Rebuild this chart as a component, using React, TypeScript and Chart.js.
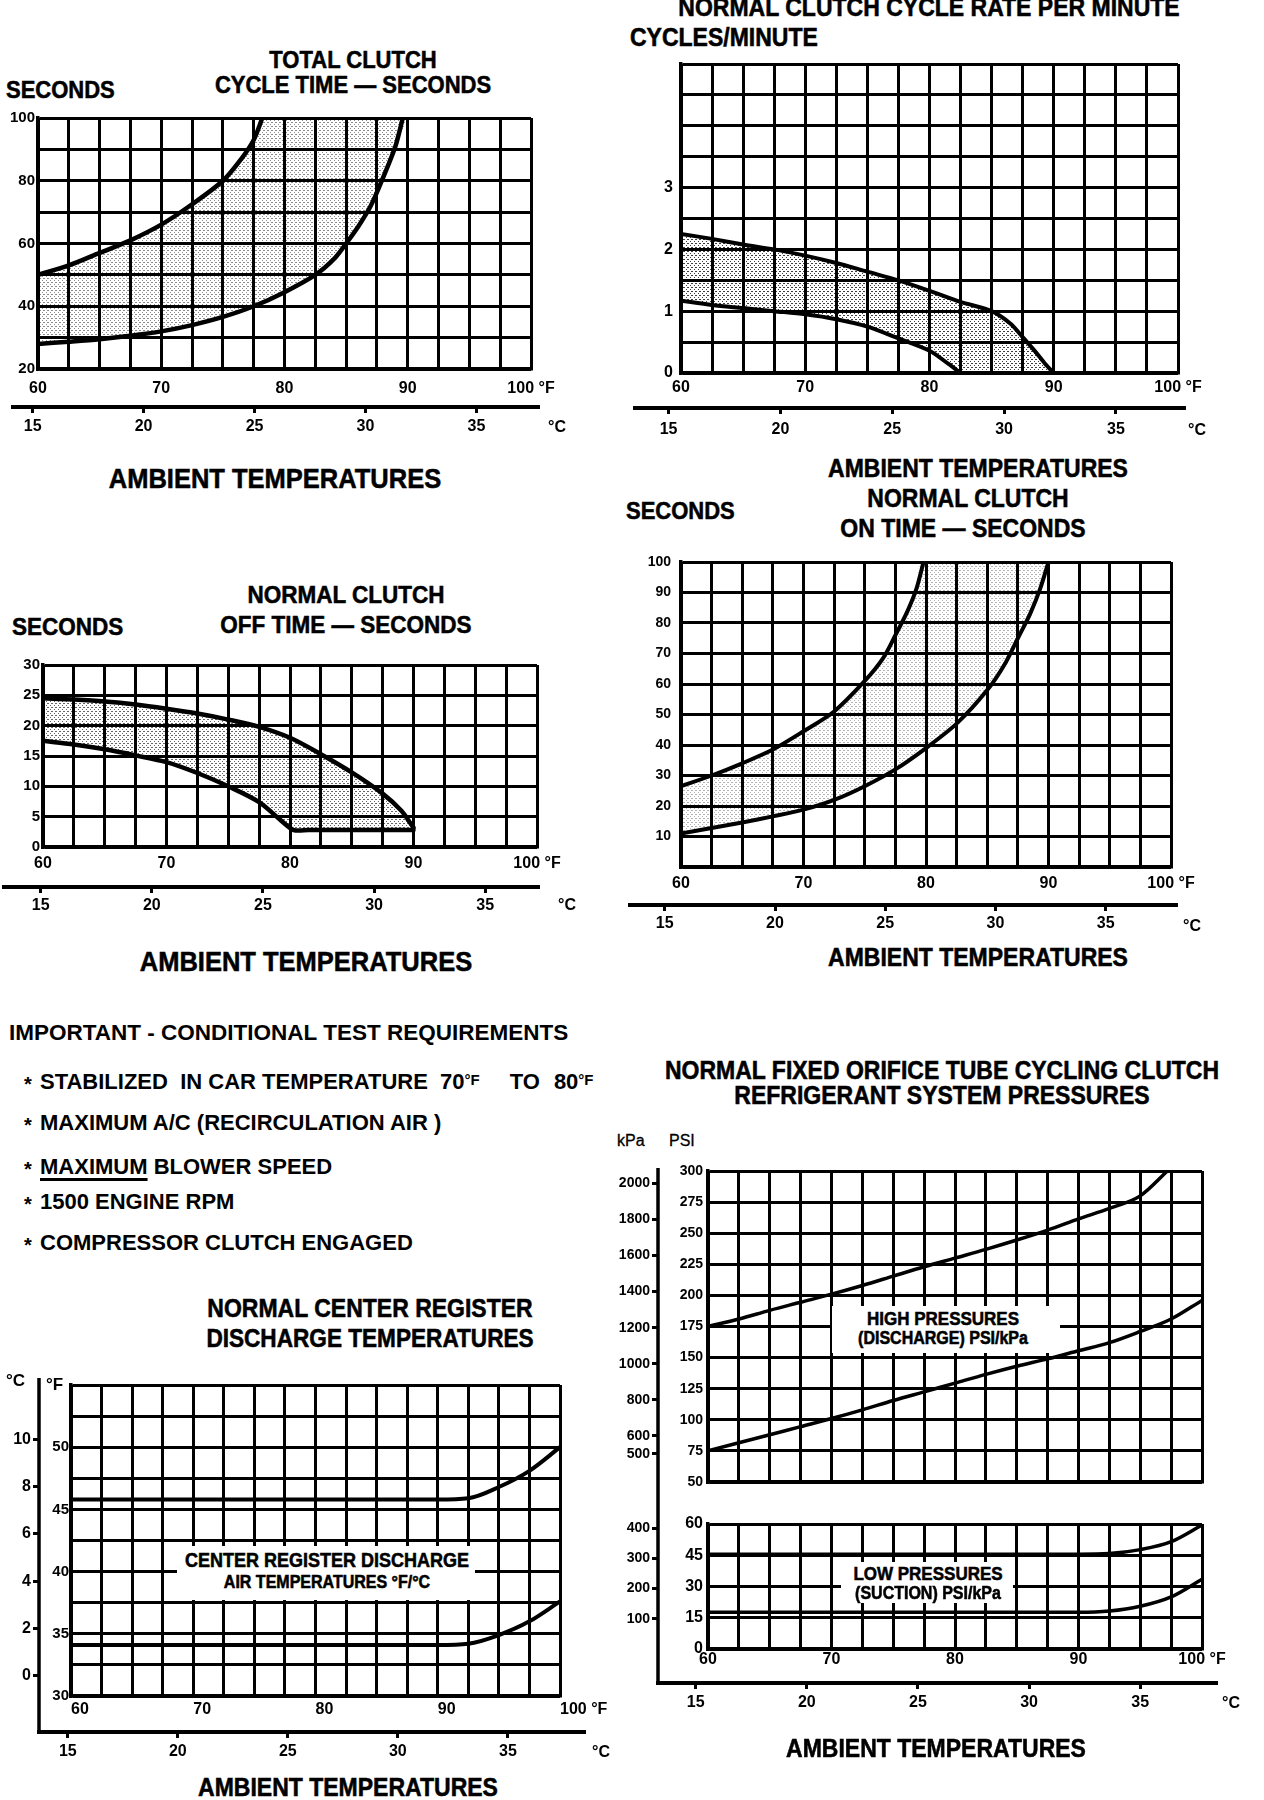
import React, { useEffect, useRef } from "react";
import { Chart, registerables } from "chart.js";

Chart.register(...registerables);

const FONT = '"Liberation Sans", Arial, Helvetica, sans-serif';
Chart.defaults.font.family = FONT;
Chart.defaults.font.weight = "bold";
Chart.defaults.color = "#000";

// ---------------- shared axis values ----------------
const F_LABELS = [60, 70, 80, 90, 100];
const C_LABELS = [15, 20, 25, 30, 35];

// ---------------- 1. total clutch cycle time (seconds) ----------------
const cycleUpperF = [60, 62.5, 65, 67.5, 70, 72.5, 75, 76.5, 77.5, 78.2];
const cycleUpperSec = [50, 53, 57, 61, 66, 72.5, 80, 87, 93, 100];
const cycleLowerF = [60, 62.5, 65, 67.5, 70, 72.5, 75, 77.5, 80, 82.5, 84, 85, 86, 87, 88, 89, 89.6];
const cycleLowerSec = [28, 28.7, 29.5, 30.6, 32, 34, 36.6, 40, 44.5, 50, 55, 60, 65.5, 72, 81, 91, 100];
const cycleSecLabels = [20, 40, 60, 80, 100];

// ---------------- 2. cycle rate per minute ----------------
const rateUpperF = [60, 62.5, 65, 67.5, 70, 72.5, 75, 77.5, 80, 82.5, 85, 86.5, 87.5, 88.5, 89.3, 90];
const rateUpperCpm = [2.25, 2.17, 2.08, 2.0, 1.9, 1.78, 1.64, 1.5, 1.33, 1.15, 1.0, 0.8, 0.58, 0.35, 0.15, 0];
const rateLowerF = [60, 62.5, 65, 67.5, 70, 72.5, 75, 77.5, 80, 81.5, 82.5];
const rateLowerCpm = [1.17, 1.1, 1.05, 1.0, 0.95, 0.87, 0.75, 0.56, 0.36, 0.15, 0];
const rateLabels = [0, 1, 2, 3];

// ---------------- 3. clutch off time ----------------
const offUpperF = [60, 62.5, 65, 67.5, 70, 72.5, 75, 77.5, 80, 82.5, 85, 87.5, 89, 90];
const offUpperSec = [24.5, 24.3, 24, 23.5, 22.8, 22, 21, 19.8, 18, 15.3, 12.3, 8.8, 6, 3.2];
const offLowerF = [60, 62.5, 65, 67.5, 70, 72.5, 75, 77.5, 79.2, 80.3, 81.5, 85, 90];
const offLowerSec = [17.5, 16.9, 16.1, 15.1, 14, 12.2, 10, 7.4, 4.5, 2.8, 2.8, 2.8, 2.8];
const offLabels = [0, 5, 10, 15, 20, 25, 30];

// ---------------- 4. clutch on time ----------------
const onLeftF = [60, 62.5, 65, 67.5, 70, 72.5, 75, 76.5, 77.5, 78.5, 79.2, 79.8];
const onLeftSec = [26.5, 30, 34, 38.5, 44.5, 51, 61, 68.5, 76, 84, 91, 100];
const onRightF = [60, 62.5, 65, 67.5, 70, 72.5, 75, 77.5, 80, 82.5, 85, 86.5, 87.5, 88.5, 89.3, 90];
const onRightSec = [11, 12.8, 14.6, 16.6, 18.8, 22, 26.5, 32, 39, 47, 58, 67, 75, 83, 91, 100];
const onLabels = [10, 20, 30, 40, 50, 60, 70, 80, 90, 100];

// ---------------- 5. center register discharge temperatures ----------------
const dischUpperF = [60, 70, 80, 90, 92.5, 95, 97.5, 100];
const dischUpperTemp = [45.8, 45.8, 45.8, 45.8, 45.9, 46.8, 48.1, 50];
const dischLowerF = [60, 70, 80, 90, 92.5, 95, 97.5, 100];
const dischLowerTemp = [34.1, 34.1, 34.1, 34.1, 34.2, 34.9, 36, 37.6];
const dischFLabels = [30, 35, 40, 45, 50];
const dischCLabels = [0, 2, 4, 6, 8, 10];

// ---------------- 6. system pressures ----------------
const highUpperF = [60, 62.5, 65, 67.5, 70, 72.5, 75, 77.5, 80, 82.5, 85, 87.5, 90, 92.5, 95, 97.2];
const highUpperPsi = [175, 181, 188, 194.5, 201, 208, 215.5, 223, 230, 237, 244.5, 252.5, 261.5, 270, 280, 300];
const highLowerF = [60, 62.5, 65, 67.5, 70, 72.5, 75, 77.5, 80, 82.5, 85, 87.5, 90, 92.5, 95, 97.5, 100];
const highLowerPsi = [75, 81.5, 88, 94.5, 101, 108, 115.5, 122.5, 129.5, 136.5, 143, 149, 155.5, 162, 171, 181, 196];
const highPsiLabels = [50, 75, 100, 125, 150, 175, 200, 225, 250, 275, 300];
const highKpaLabels = [500, 600, 800, 1000, 1200, 1400, 1600, 1800, 2000];
const lowUpperF = [60, 70, 80, 90, 92.5, 95, 97.5, 100];
const lowUpperPsi = [45.5, 45.5, 45.5, 45.5, 45.8, 47.7, 51.5, 59.5];
const lowLowerF = [60, 70, 80, 90, 92.5, 95, 97.5, 100];
const lowLowerPsi = [17.6, 17.6, 17.6, 17.6, 18.2, 20.5, 25, 33.5];
const lowPsiLabels = [0, 15, 30, 45, 60];
const lowKpaLabels = [100, 200, 300, 400];

const PSI_TO_KPA = 6.894757;

// ---------------- helpers ----------------
type Pt = { x: number; y: number };
const pts = (xs: number[], ys: number[]): Pt[] => xs.map((x, i) => ({ x, y: ys[i] }));
const f2c = (f: number) => (f - 32) / 1.8;
const range = (a: number, b: number, step: number) => {
  const out: number[] = [];
  for (let v = a; v <= b + 1e-9; v += step) out.push(Math.round(v * 1000) / 1000);
  return out;
};

interface Spec {
  box: [number, number, number, number];
  plot: [number, number, number, number];
  yMin: number;
  yMax: number;
  yStep: number;
  yLabels: number[];
  yWidth: number;
  yPad: number;
  yFont: number;
  y2?: { min: number; max: number; ticks: number[]; width: number; pad: number; font: number; from: number; to: number };
  fHeight: number;
  fPad: number;
  fShow: boolean;
  fAlign?: "center" | "start";
  c?: { height: number; pad: number; from: number; to: number; shiftPx: number };
  curves: Pt[][];
  curveWidth: number;
  mono: boolean;
  shade?: Pt[];
  shadeAlpha?: number;
}

function makePattern(alpha: number): any {
  const c = document.createElement("canvas");
  c.width = 4;
  c.height = 4;
  const g = c.getContext("2d");
  if (!g) return `rgba(0,0,0,${alpha * 0.15})`;
  g.fillStyle = `rgba(0,0,0,${alpha})`;
  g.fillRect(0, 0, 1, 1);
  g.fillRect(2, 2, 1, 1);
  g.fillRect(3, 0, 1, 1);
  const p = g.createPattern(c, "repeat");
  return p || `rgba(0,0,0,${alpha * 0.15})`;
}

const tickFont = (size: number) => ({ family: FONT, size, weight: "bold" as const, lineHeight: 1.2 });

function buildConfig(s: Spec): any {
  const [cl, ct, cw, chh] = s.box;
  const [pl, pt, pr, pb] = s.plot;
  const y2w = s.y2 ? s.y2.width : 0;
  const cH = s.c ? s.c.height : 0;
  const padding = {
    left: pl - cl - s.yWidth - y2w,
    top: pt - ct,
    right: cl + cw - pr,
    bottom: ct + chh - pb - s.fHeight - cH,
  };
  const pxPerC = (pr - pl) / ((100 - 60) / 1.8);

  const datasets: any[] = [];
  if (s.shade) {
    datasets.push({
      data: s.shade,
      fill: "shape",
      backgroundColor: makePattern(s.shadeAlpha ?? 0.5),
      borderColor: "rgba(0,0,0,0)",
      borderWidth: 1,
      pointRadius: 0,
      tension: 0.3,
      order: 5,
      xAxisID: "x",
      yAxisID: "y",
    });
  }
  s.curves.forEach((c) =>
    datasets.push({
      data: c,
      fill: false,
      borderColor: "#000",
      borderWidth: s.curveWidth,
      pointRadius: 0,
      tension: s.mono ? 0 : 0.3,
      cubicInterpolationMode: s.mono ? "monotone" : "default",
      borderCapStyle: "round",
      order: 1,
      xAxisID: "x",
      yAxisID: "y",
    })
  );

  const gridMain = { color: "#000", lineWidth: 3, drawTicks: false };
  const border = { display: true, color: "#000", width: 3.5 };

  const scales: any = {
    x: {
      type: "linear",
      position: "bottom",
      weight: 0,
      min: 60,
      max: 100,
      afterBuildTicks: (sc: any) => {
        sc.ticks = range(60, 100, 2.5).map((v) => ({ value: v }));
      },
      afterFit: (sc: any) => {
        sc.height = s.fHeight;
        sc.paddingLeft = 0;
        sc.paddingRight = 0;
      },
      grid: gridMain,
      border,
      ticks: {
        display: s.fShow,
        autoSkip: false,
        maxRotation: 0,
        minRotation: 0,
        padding: s.fPad,
        color: "#000",
        align: s.fAlign || "center",
        font: tickFont(16),
        callback: (v: number) => (v === 100 ? "100 °F" : F_LABELS.includes(v) ? String(v) : ""),
      },
    },
    y: {
      type: "linear",
      position: "left",
      weight: 0,
      min: s.yMin,
      max: s.yMax,
      afterBuildTicks: (sc: any) => {
        sc.ticks = range(s.yMin, s.yMax, s.yStep).map((v) => ({ value: v }));
      },
      afterFit: (sc: any) => {
        sc.width = s.yWidth;
        sc.paddingTop = 0;
        sc.paddingBottom = 0;
      },
      grid: gridMain,
      border,
      ticks: {
        autoSkip: false,
        padding: s.yPad,
        color: "#000",
        font: tickFont(s.yFont),
        callback: (v: number) => (s.yLabels.includes(v) ? String(v) : ""),
      },
    },
  };

  if (s.c) {
    const c = s.c;
    const shiftC = c.shiftPx / pxPerC;
    scales.xc = {
      type: "linear",
      position: "bottom",
      weight: 1,
      min: f2c(60) - shiftC,
      max: f2c(100) - shiftC,
      afterBuildTicks: (sc: any) => {
        sc.ticks = C_LABELS.map((v) => ({ value: v }));
      },
      afterFit: (sc: any) => {
        sc.height = c.height;
        sc.paddingLeft = 0;
        sc.paddingRight = 0;
      },
      grid: { display: true, drawOnChartArea: false, drawTicks: true, tickLength: 6, color: "#000", lineWidth: 3 },
      border: { display: false },
      ticks: { autoSkip: false, maxRotation: 0, padding: c.pad, color: "#000", font: tickFont(16), callback: (v: number) => String(v) },
    };
  }
  if (s.y2) {
    const y2 = s.y2;
    scales.y2 = {
      type: "linear",
      position: "left",
      weight: 1,
      min: y2.min,
      max: y2.max,
      afterBuildTicks: (sc: any) => {
        sc.ticks = y2.ticks.map((v) => ({ value: v }));
      },
      afterFit: (sc: any) => {
        sc.width = y2.width;
        sc.paddingTop = 0;
        sc.paddingBottom = 0;
      },
      grid: { display: true, drawOnChartArea: false, drawTicks: true, tickLength: 6, color: "#000", lineWidth: 3 },
      border: { display: false },
      ticks: { autoSkip: false, padding: y2.pad, color: "#000", font: tickFont(y2.font), callback: (v: number) => String(v) },
    };
  }

  const lines: any[] = [];
  if (s.c) lines.push({ kind: "h", scale: "xc", from: s.c.from - cl, to: s.c.to - cl, w: 4 });
  if (s.y2) lines.push({ kind: "v", scale: "y2", from: s.y2.from - ct, to: s.y2.to - ct, w: 3.5 });

  const axisLines = {
    id: "axisLines",
    afterDraw(chart: any) {
      const ctx = chart.ctx;
      ctx.save();
      ctx.strokeStyle = "#000";
      for (const l of lines) {
        const sc = chart.scales[l.scale];
        ctx.lineWidth = l.w;
        ctx.beginPath();
        if (l.kind === "h") {
          ctx.moveTo(l.from, sc.top);
          ctx.lineTo(l.to, sc.top);
        } else {
          ctx.moveTo(sc.right, l.from);
          ctx.lineTo(sc.right, l.to);
        }
        ctx.stroke();
      }
      ctx.restore();
    },
  };

  return {
    type: "line",
    data: { datasets },
    options: {
      responsive: false,
      animation: false,
      events: [],
      layout: { autoPadding: false, padding },
      plugins: { legend: { display: false }, tooltip: { enabled: false } },
      scales,
    },
    plugins: [axisLines],
  };
}

// ---------------- panel specs ----------------
const SPECS: Spec[] = [
  {
    box: [0, 110, 600, 330],
    plot: [38, 118, 531, 369],
    yMin: 20, yMax: 100, yStep: 10, yLabels: cycleSecLabels, yWidth: 36, yPad: 3, yFont: 15,
    fHeight: 38, fPad: 10, fShow: true,
    c: { height: 30, pad: 4, from: 11, to: 540, shiftPx: 7 },
    curves: [pts(cycleUpperF, cycleUpperSec), pts(cycleLowerF, cycleLowerSec)],
    curveWidth: 4.5, mono: false,
    shade: [...pts(cycleUpperF, cycleUpperSec), ...pts(cycleLowerF, cycleLowerSec).reverse()],
    shadeAlpha: 0.45,
  },
  {
    box: [620, 55, 644, 385],
    plot: [681, 64, 1178, 373],
    yMin: 0, yMax: 5, yStep: 0.5, yLabels: rateLabels, yWidth: 30, yPad: 8, yFont: 16,
    fHeight: 35, fPad: 5, fShow: true,
    c: { height: 32, pad: 6, from: 633, to: 1186, shiftPx: 0 },
    curves: [pts(rateUpperF, rateUpperCpm), pts(rateLowerF, rateLowerCpm)],
    curveWidth: 4, mono: false,
    shade: [...pts(rateUpperF, rateUpperCpm), ...pts(rateLowerF, rateLowerCpm).reverse()],
    shadeAlpha: 0.75,
  },
  {
    box: [0, 655, 600, 270],
    plot: [43, 665, 537, 847],
    yMin: 0, yMax: 30, yStep: 5, yLabels: offLabels, yWidth: 40, yPad: 3, yFont: 15,
    fHeight: 40, fPad: 7, fShow: true,
    c: { height: 32, pad: 3, from: 2, to: 540, shiftPx: 10 },
    curves: [pts(offUpperF, offUpperSec), pts(offLowerF, offLowerSec)],
    curveWidth: 4.5, mono: false,
    shade: [...pts(offUpperF, offUpperSec), ...pts(offLowerF, offLowerSec).reverse()],
    shadeAlpha: 0.6,
  },
  {
    box: [620, 550, 644, 390],
    plot: [681, 562, 1171, 867],
    yMin: 0, yMax: 100, yStep: 10, yLabels: onLabels, yWidth: 44, yPad: 10, yFont: 14,
    fHeight: 38, fPad: 7, fShow: true,
    c: { height: 32, pad: 3, from: 628, to: 1178, shiftPx: -4 },
    curves: [pts(onLeftF, onLeftSec), pts(onRightF, onRightSec)],
    curveWidth: 4, mono: false,
    shade: [...pts(onLeftF, onLeftSec), ...pts(onRightF, onRightSec).reverse()],
    shadeAlpha: 0.3,
  },
  {
    box: [0, 1370, 620, 395],
    plot: [71, 1385, 560, 1696],
    yMin: 30, yMax: 55, yStep: 2.5, yLabels: dischFLabels, yWidth: 32, yPad: 2, yFont: 15,
    y2: { min: -0.85, max: 12.3, ticks: dischCLabels, width: 37, pad: 2, font: 16, from: 1378, to: 1734 },
    fHeight: 36, fPad: 4, fShow: true, fAlign: "start",
    c: { height: 30, pad: 4, from: 37, to: 586, shiftPx: 9 },
    curves: [pts(dischUpperF, dischUpperTemp), pts(dischLowerF, dischLowerTemp)],
    curveWidth: 4, mono: true,
  },
  {
    box: [600, 1160, 664, 330],
    plot: [708, 1171, 1202, 1482],
    yMin: 50, yMax: 300, yStep: 25, yLabels: highPsiLabels, yWidth: 50, yPad: 5, yFont: 14,
    y2: { min: 50 * PSI_TO_KPA, max: 300 * PSI_TO_KPA, ticks: highKpaLabels, width: 50, pad: 2, font: 14, from: 1168, to: 1490 },
    fHeight: 0, fPad: 0, fShow: false,
    curves: [pts(highUpperF, highUpperPsi), pts(highLowerF, highLowerPsi)],
    curveWidth: 3.5, mono: true,
  },
  {
    box: [600, 1490, 664, 240],
    plot: [708, 1524, 1202, 1649],
    yMin: 0, yMax: 60, yStep: 15, yLabels: lowPsiLabels, yWidth: 50, yPad: 5, yFont: 16,
    y2: { min: 0, max: 60 * PSI_TO_KPA, ticks: lowKpaLabels, width: 50, pad: 2, font: 14, from: 1490, to: 1685 },
    fHeight: 34, fPad: 1, fShow: true,
    c: { height: 32, pad: 4, from: 656, to: 1218, shiftPx: 0 },
    curves: [pts(lowUpperF, lowUpperPsi), pts(lowLowerF, lowLowerPsi)],
    curveWidth: 3.5, mono: true,
  },
];

function Panel({ spec }: { spec: Spec }) {
  const ref = useRef<HTMLCanvasElement>(null);
  useEffect(() => {
    const cv = ref.current;
    if (!cv) return;
    const chart = new Chart(cv, buildConfig(spec));
    return () => chart.destroy();
  }, [spec]);
  const [l, t, w, h] = spec.box;
  return <canvas ref={ref} width={w} height={h} style={{ position: "absolute", left: l, top: t, width: w, height: h }} />;
}

type TP = { x: number; y: number; s?: number; w?: number; a?: "l" | "c"; sy?: number; k?: number; children: React.ReactNode };
function T({ x, y, s = 22, w = 700, a = "c", sy = 1.1, k = 0.5, children }: TP) {
  return (
    <div
      style={{
        position: "absolute",
        left: x,
        top: y,
        transform: `translate(${a === "c" ? "-50%" : "0"}, -50%) scaleY(${sy})`,
        fontFamily: FONT,
        fontWeight: w,
        fontSize: s,
        lineHeight: 1,
        whiteSpace: "nowrap",
        color: "#000",
        WebkitTextStroke: k ? `${k}px #000` : undefined,
      }}
    >
      {children}
    </div>
  );
}

function WhiteBox({ l, t, w, h }: { l: number; t: number; w: number; h: number }) {
  return <div style={{ position: "absolute", left: l, top: t, width: w, height: h, background: "#fff" }} />;
}

const deg = { fontSize: 15, position: "relative" as const, top: -4 };

export default function App() {
  return (
    <div style={{ position: "absolute", left: 0, top: 0, width: 1264, height: 1800, background: "#fff", overflow: "hidden" }}>
      {SPECS.map((s, i) => (
        <Panel key={i} spec={s} />
      ))}

      {/* Chart 1 */}
      <T x={6} y={90} a="l">SECONDS</T>
      <T x={353} y={60}>TOTAL CLUTCH</T>
      <T x={353} y={85}>CYCLE TIME — SECONDS</T>
      <T x={275} y={479} s={25.5}>AMBIENT TEMPERATURES</T>
      <T x={548} y={427} s={16} a="l" sy={1} k={0}>°C</T>

      {/* Chart 2 */}
      <T x={929} y={8} s={23}>NORMAL CLUTCH CYCLE RATE PER MINUTE</T>
      <T x={630} y={38} s={23} a="l">CYCLES/MINUTE</T>
      <T x={1188} y={430} s={16} a="l" sy={1} k={0}>°C</T>

      {/* Chart 4 titles */}
      <T x={978} y={469} s={23}>AMBIENT TEMPERATURES</T>
      <T x={968} y={499} s={23}>NORMAL CLUTCH</T>
      <T x={963} y={529} s={23}>ON TIME — SECONDS</T>
      <T x={626} y={511} a="l">SECONDS</T>
      <T x={1183} y={926} s={16} a="l" sy={1} k={0}>°C</T>
      <T x={978} y={958} s={23}>AMBIENT TEMPERATURES</T>

      {/* Chart 3 */}
      <T x={12} y={628} s={22.5} a="l">SECONDS</T>
      <T x={346} y={596} s={22.5}>NORMAL CLUTCH</T>
      <T x={346} y={626} s={22.5}>OFF TIME — SECONDS</T>
      <T x={306} y={962} s={25.5}>AMBIENT TEMPERATURES</T>
      <T x={558} y={905} s={16} a="l" sy={1} k={0}>°C</T>

      {/* Requirements */}
      <T x={9} y={1033} s={22.5} a="l" sy={1} k={0}>IMPORTANT - CONDITIONAL TEST REQUIREMENTS</T>
      <T x={24} y={1084} s={20} a="l" sy={1} k={0}>*</T>
      <T x={40} y={1082} s={22} a="l" sy={1} k={0}>
        STABILIZED&nbsp; IN CAR TEMPERATURE&nbsp; 70<span style={deg}>°F</span>
        <span style={{ marginLeft: 30 }}>TO</span>
        <span style={{ marginLeft: 14 }}>80</span>
        <span style={deg}>°F</span>
      </T>
      <T x={24} y={1125} s={20} a="l" sy={1} k={0}>*</T>
      <T x={40} y={1123} s={22} a="l" sy={1} k={0}>MAXIMUM A/C (RECIRCULATION AIR )</T>
      <T x={24} y={1169} s={20} a="l" sy={1} k={0}>*</T>
      <T x={40} y={1167} s={22} a="l" sy={1} k={0}>
        <span style={{ textDecoration: "underline", textDecorationThickness: "3px", textUnderlineOffset: "4px" }}>MAXIMUM</span>
        &nbsp;BLOWER SPEED
      </T>
      <T x={24} y={1204} s={20} a="l" sy={1} k={0}>*</T>
      <T x={40} y={1202} s={22} a="l" sy={1} k={0}>1500 ENGINE RPM</T>
      <T x={24} y={1245} s={20} a="l" sy={1} k={0}>*</T>
      <T x={40} y={1243} s={22} a="l" sy={1} k={0}>COMPRESSOR CLUTCH ENGAGED</T>

      {/* Chart 5 */}
      <T x={370} y={1309} s={23}>NORMAL CENTER REGISTER</T>
      <T x={370} y={1340} s={22.6}>DISCHARGE TEMPERATURES</T>
      <T x={6} y={1380} s={17} a="l" sy={1} k={0}>°C</T>
      <T x={46} y={1384} s={17} a="l" sy={1} k={0}>°F</T>
      <WhiteBox l={177} t={1546} w={298} h={54} />
      <T x={327} y={1560} s={18}>CENTER REGISTER DISCHARGE</T>
      <T x={327} y={1583} s={16}>AIR TEMPERATURES °F/°C</T>
      <T x={592} y={1752} s={16} a="l" sy={1} k={0}>°C</T>
      <T x={348} y={1788} s={23}>AMBIENT TEMPERATURES</T>

      {/* Chart 6 */}
      <T x={942} y={1071} s={23}>NORMAL FIXED ORIFICE TUBE CYCLING CLUTCH</T>
      <T x={942} y={1096} s={23}>REFRIGERANT SYSTEM PRESSURES</T>
      <T x={617} y={1141} s={16} w={400} a="l" sy={1} k={0.3}>kPa</T>
      <T x={669} y={1141} s={16} w={400} a="l" sy={1} k={0.3}>PSI</T>
      <WhiteBox l={832} t={1306} w={228} h={47} />
      <T x={943} y={1319} s={17}>HIGH PRESSURES</T>
      <T x={943} y={1339} s={16}>(DISCHARGE) PSI/kPa</T>
      <WhiteBox l={841} t={1562} w={172} h={41} />
      <T x={928} y={1574} s={17}>LOW PRESSURES</T>
      <T x={928} y={1594} s={16}>(SUCTION) PSI/kPa</T>
      <T x={1222} y={1703} s={16} a="l" sy={1} k={0}>°C</T>
      <T x={936} y={1749} s={23}>AMBIENT TEMPERATURES</T>
    </div>
  );
}
